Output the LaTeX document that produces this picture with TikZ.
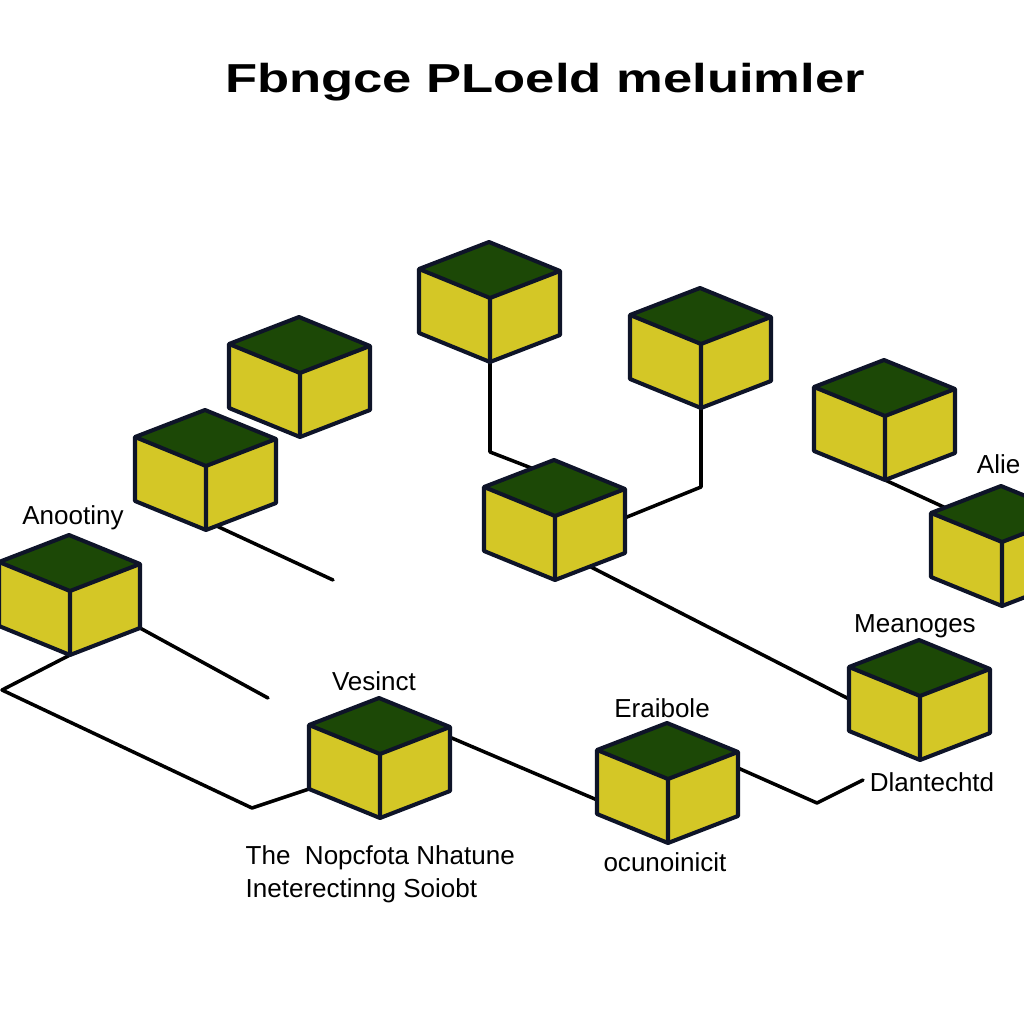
\documentclass[tikz,border=0pt]{standalone}
\usepackage{fontspec}
\setmainfont{Liberation Sans}
\usetikzlibrary{calc,positioning}

\definecolor{cubeface}{RGB}{212,199,38}
\definecolor{cubetop}{RGB}{28,72,6}
\definecolor{cubeedge}{RGB}{14,20,40}

\tikzset{
  link/.style={line width=1pt, black, line cap=round, line join=round},
  cubeline/.style={line width=1.15pt, draw=cubeedge, line join=round},
  tag/.style={font=\fontsize{7.4}{9.4}\selectfont, inner sep=0pt},
  heading/.style={font=\fontsize{11.5}{14}\selectfont\bfseries, inner sep=0pt},
}

% corners of a cube whose bottom front corner is at (#2,#3)
\newcommand{\cubeat}[3]{
  \coordinate (#1) at (#2,#3);
  \coordinate (#1-ft) at (#2,#3-64);
  \coordinate (#1-bl) at (#2-71,#3-29);
  \coordinate (#1-br) at (#2+70,#3-27);
  \coordinate (#1-tl) at (#2-71,#3-93);
  \coordinate (#1-tr) at (#2+70,#3-91);
  \coordinate (#1-tb) at (#2-1,#3-120);
}
\newcommand{\drawcube}[1]{
  \fill[cubeface] (#1) -- (#1-bl) -- (#1-tl) -- (#1-ft) -- (#1-tr) -- (#1-br) -- cycle;
  \fill[cubetop] (#1-ft) -- (#1-tl) -- (#1-tb) -- (#1-tr) -- cycle;
  \draw[cubeline] (#1) -- (#1-bl) -- (#1-tl) -- (#1-tb) -- (#1-tr) -- (#1-br) -- cycle;
  \draw[cubeline] (#1-tl) -- (#1-ft) -- (#1-tr) (#1-ft) -- (#1);
}

\begin{document}
\begin{tikzpicture}[x=0.01cm, y=-0.01cm]
    \useasboundingbox (0,0) rectangle (1024,1024);
    \clip (0,0) rectangle (1024,1024);
    % cube corners
    \cubeat{top}{490}{362}
    \cubeat{upA}{300}{437}
    \cubeat{upB}{206}{530}
    \cubeat{lft}{70}{655}
    \cubeat{upr}{701}{408}
    \cubeat{rgt}{885}{480}
    \cubeat{hub}{555}{580}
    \cubeat{far}{1002}{606}
    \cubeat{mean}{920}{760}
    \cubeat{vesc}{380}{818}
    \cubeat{erax}{668}{843}
    % loose ends and bends
    \coordinate (endB) at (333,580);
    \coordinate (endL) at (268,698);
    \coordinate (kneeA) at (2,690);
    \coordinate (kneeB) at (252,808);
    \coordinate (kneeC) at (817,803);
    \coordinate (endD) at (863,780);
    % connectors
    \draw[link] (top) -- ++(0,90) -- ($(hub-tl)!0.69!(hub-tb)$);
    \draw[link] (upr) -- ++(0,79) -- ($(hub-tr)!0.45!(hub-br)$);
    \draw[link] ($(hub)!0.5!(hub-br)$) -- ($(mean-tl)!0.5!(mean-bl)$);
    \draw[link] (rgt) -- ($(far-tl)!0.2!(far-tb)$);
    \draw[link] ($(upB)!0.15!(upB-br)$) -- (endB);
    \draw[link] (lft-br) -- (endL);
    \draw[link] (lft) -- (kneeA) -- (kneeB) -- (vesc-bl);
    \draw[link] ($(vesc-tr)!0.16!(vesc-br)$) -- ($(erax-tl)!0.78!(erax-bl)$);
    \draw[link] ($(erax-tr)!0.25!(erax-br)$) -- (kneeC) -- (endD);
    % cubes
    \drawcube{top}
    \drawcube{upA}
    \drawcube{upB}
    \drawcube{lft}
    \drawcube{upr}
    \drawcube{rgt}
    \drawcube{hub}
    \drawcube{far}
    \drawcube{mean}
    \drawcube{vesc}
    \drawcube{erax}
    % labels
    \node[heading] (title) at (545,82) {\scalebox{1.3}[1]{Fbngce PLoeld meluimler}};
    \node[tag] (anoo) at (73,518) {Anootiny};
    \node[tag] (vesct) at (374,681) {Vesinct};
    \node[tag] (eraxt) at (662,708) {Eraibole};
    \node[tag] (meant) at (915,626) {Meanoges};
    \node[tag, anchor=east] (alie) at (1021,464) {Alie};
    \node[tag] (dlan) at (932,782) {Dlantechtd};
    \node[tag, anchor=north west, align=left] (note) at (245,845) {The\ \ Nopcfota Nhatune\\Ineterectinng Soiobt};
    \node[tag] (ocun) at (665,862) {ocunoinicit};
\end{tikzpicture}
\end{document}
